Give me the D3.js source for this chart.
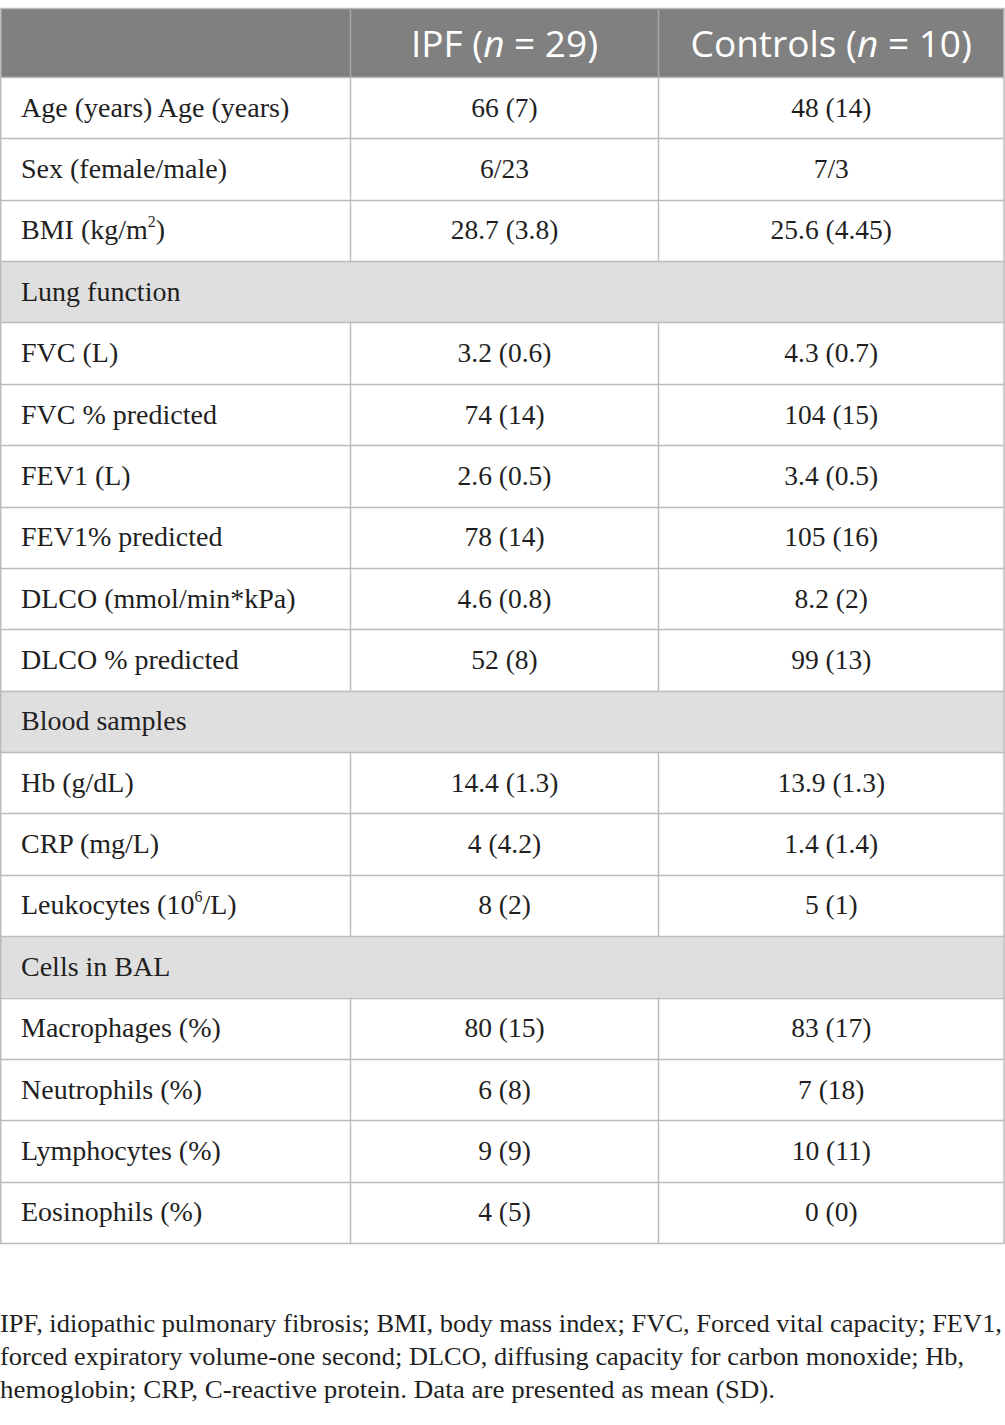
<!DOCTYPE html>
<html><head><meta charset="utf-8">
<script src="https://cdn.jsdelivr.net/npm/d3@7"></script>
<style>body{margin:0;background:#fff}svg{display:block}</style>
</head><body>
<svg id="c" width="1005" height="1425"></svg>
<script>
const headers = ["", "IPF", "Controls"];
const headerN = ["", "29", "10"];
const rowLabels = ["Age (years) Age (years)","Sex (female/male)","BMI (kg/m|2|)","Lung function","FVC (L)","FVC % predicted","FEV1 (L)","FEV1% predicted","DLCO (mmol/min*kPa)","DLCO % predicted","Blood samples","Hb (g/dL)","CRP (mg/L)","Leukocytes (10|6|/L)","Cells in BAL","Macrophages (%)","Neutrophils (%)","Lymphocytes (%)","Eosinophils (%)"];
const ipfValues = ["66 (7)","6/23","28.7 (3.8)",null,"3.2 (0.6)","74 (14)","2.6 (0.5)","78 (14)","4.6 (0.8)","52 (8)",null,"14.4 (1.3)","4 (4.2)","8 (2)",null,"80 (15)","6 (8)","9 (9)","4 (5)"];
const controlValues = ["48 (14)","7/3","25.6 (4.45)",null,"4.3 (0.7)","104 (15)","3.4 (0.5)","105 (16)","8.2 (2)","99 (13)",null,"13.9 (1.3)","1.4 (1.4)","5 (1)",null,"83 (17)","7 (18)","10 (11)","0 (0)"];
const footnote = ["IPF, idiopathic pulmonary fibrosis; BMI, body mass index; FVC, Forced vital capacity; FEV1,","forced expiratory volume-one second; DLCO, diffusing capacity for carbon monoxide; Hb,","hemoglobin; CRP, C-reactive protein. Data are presented as mean (SD)."];

(function(){
const svg = d3.select("#c");
const colEdges = [0.5, 350.5, 658.5, 1004];
const tTop = 8, headBottom = 77, tableBottom = 1243;
const y = d3.scaleBand().domain(d3.range(rowLabels.length)).range([headBottom, tableBottom]);
const serif = "'Liberation Serif','Times New Roman',serif";
const sans = "'Open Sans','Noto Sans',sans-serif";
const gridCol = "#bcbcbc";
const txtCol = "#1f1f1f";

svg.append("rect").attr("x",0).attr("y",tTop).attr("width",1004).attr("height",headBottom-tTop).attr("fill","#808080");
rowLabels.forEach((l,i)=>{
  if(ipfValues[i]===null){
    svg.append("rect").attr("x",0).attr("y",y(i)).attr("width",1004).attr("height",y.bandwidth()).attr("fill","#e0dfe0");
  }
});
const hy = [tTop, headBottom].concat(rowLabels.map((d,i)=>y(i)+y.bandwidth()));
svg.selectAll("line.h").data(hy).join("line").attr("class","h")
  .attr("x1",0).attr("x2",1004.5).attr("y1",d=>Math.round(d)+0.5).attr("y2",d=>Math.round(d)+0.5)
  .attr("stroke",gridCol).attr("stroke-width",1.5);
[0.75,1004].forEach(x=>svg.append("line").attr("x1",x).attr("x2",x).attr("y1",tTop).attr("y2",tableBottom+0.5).attr("stroke",gridCol).attr("stroke-width",1.5));
rowLabels.forEach((l,i)=>{
  if(ipfValues[i]!==null){
    [350.5,658.5].forEach(x=>svg.append("line").attr("x1",x).attr("x2",x).attr("y1",y(i)).attr("y2",y(i)+y.bandwidth()).attr("stroke",gridCol).attr("stroke-width",1.5));
  }
});
[350.5,658.5].forEach(x=>svg.append("line").attr("x1",x).attr("x2",x).attr("y1",tTop).attr("y2",headBottom).attr("stroke","#a8a8a8").attr("stroke-width",1.5));

[1,2].forEach(c=>{
  const cx=(colEdges[c]+colEdges[c+1])/2;
  const t=svg.append("text").attr("x",cx).attr("y",57).attr("text-anchor","middle")
    .attr("font-family",sans).attr("font-size",37).attr("fill","#fff");
  t.append("tspan").text(headers[c]+" (");
  t.append("tspan").attr("font-style","italic").text("n");
  t.append("tspan").text(" = "+headerN[c]+")");
});

function richText(sel, str){
  const parts=str.split("|");
  parts.forEach((p,k)=>{
    if(k%2===1){ sel.append("tspan").attr("font-size",16).attr("dy",-12).text(p); }
    else { const ts=sel.append("tspan").text(p); if(k>0) ts.attr("dy",12); }
  });
}
rowLabels.forEach((l,i)=>{
  const by=y(i)+y.bandwidth()/2+9;
  const t=svg.append("text").attr("x",21).attr("y",by).attr("font-family",serif).attr("font-size",28).attr("fill",txtCol);
  richText(t,l);
  if(ipfValues[i]!==null){
    svg.append("text").attr("x",(colEdges[1]+colEdges[2])/2).attr("y",by).attr("text-anchor","middle")
      .attr("font-family",serif).attr("font-size",27.5).attr("fill",txtCol).text(ipfValues[i]);
    svg.append("text").attr("x",(colEdges[2]+colEdges[3])/2).attr("y",by).attr("text-anchor","middle")
      .attr("font-family",serif).attr("font-size",27.5).attr("fill",txtCol).text(controlValues[i]);
  }
});

const fnWidths = [1002, 964, 775];
svg.selectAll("text.fn").data(footnote).join("text").attr("class","fn")
  .attr("x",0).attr("y",(d,i)=>1332+i*33).attr("font-family",serif).attr("font-size",26).attr("fill",txtCol)
  .attr("textLength",(d,i)=>fnWidths[i]).attr("lengthAdjust","spacingAndGlyphs")
  .text(d=>d);
})();
</script>
</body></html>
